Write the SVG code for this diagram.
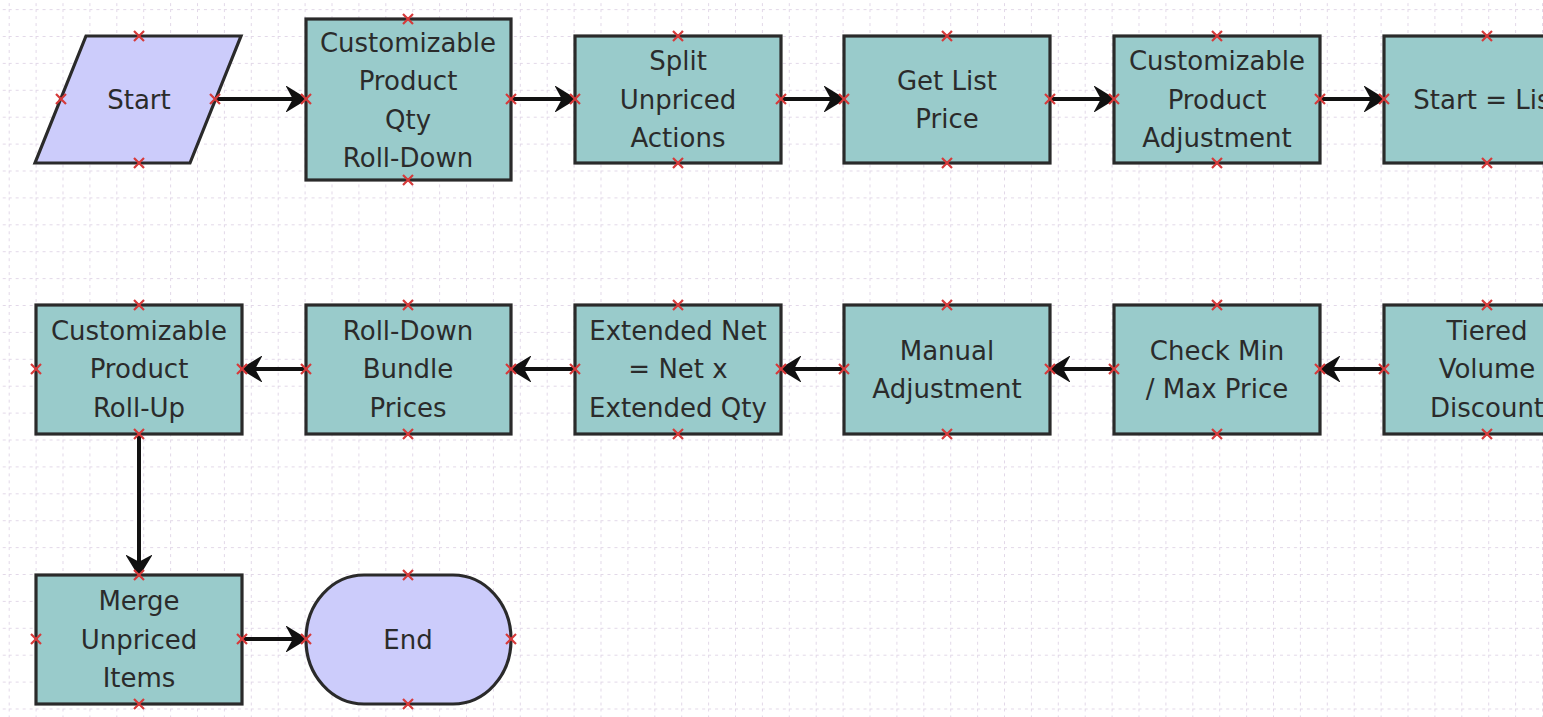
<svg xmlns="http://www.w3.org/2000/svg" xmlns:xlink="http://www.w3.org/1999/xlink" width="1543" height="717" viewBox="0 0 1543 717">
<style>
.box{fill:#99cbcb;stroke:#2a2a2a;stroke-width:3.2}
.term{fill:#ccccfb;stroke:#2a2a2a;stroke-width:3.2}
.t{font-family:"DejaVu Sans","Noto Sans",sans-serif;font-size:26px;fill:#2b2b2b;text-anchor:middle;dominant-baseline:central}
.c{stroke:#111;stroke-width:4;fill:none;marker-end:url(#ah)}
.x{stroke:#d63a3a;stroke-width:2.2}
</style>
<defs>
<pattern id="grid" x="35.6" y="9.1" width="26.9" height="26.9" patternUnits="userSpaceOnUse">
<path d="M0,0 V26.9 M0,0 H26.9" stroke="#e2d8e8" stroke-width="2" stroke-dasharray="3,4" fill="none"/>
</pattern>
<marker id="ah" markerUnits="userSpaceOnUse" viewBox="-19 -13 21 26" refX="0" refY="0" markerWidth="21" markerHeight="26" orient="auto">
<path d="M1,0 L-17,-11 L-11,0 L-17,11 Z" fill="#111" stroke="#111" stroke-width="2" stroke-linejoin="miter"/>
</marker>
<g id="xm"><path class="x" d="M-5,-5 L5,5 M-5,5 L5,-5"/></g>
</defs>
<rect width="1543" height="717" fill="#fff"/>
<rect width="1543" height="717" fill="url(#grid)"/>

<g id="connectors">
<path class="c" d="M213,99 H305"/>
<path class="c" d="M511,99 H574"/>
<path class="c" d="M781,99 H843"/>
<path class="c" d="M1050,99 H1113"/>
<path class="c" d="M1320,99 H1383"/>
<path class="c" d="M1384,369 H1321"/>
<path class="c" d="M1114,369 H1051"/>
<path class="c" d="M844,369 H782"/>
<path class="c" d="M575,369 H512"/>
<path class="c" d="M306,369 H243"/>
<path class="c" d="M139,434 V574"/>
<path class="c" d="M242,639 H305"/>
</g>

<g id="n-start">
<polygon class="term" points="86,36 241,36 190,163 35,163"/>
<text class="t" x="139" y="100">Start</text>
<use href="#xm" x="139" y="36"/><use href="#xm" x="139" y="163"/><use href="#xm" x="61" y="99"/><use href="#xm" x="215" y="99"/>
</g>

<g id="n-qty">
<rect class="box" x="306" y="19" width="205" height="161"/>
<text class="t" x="408" y="43">Customizable</text>
<text class="t" x="408" y="81">Product</text>
<text class="t" x="408" y="120">Qty</text>
<text class="t" x="408" y="158">Roll-Down</text>
<use href="#xm" x="408" y="19"/><use href="#xm" x="408" y="180"/><use href="#xm" x="306" y="99"/><use href="#xm" x="511" y="99"/>
</g>

<g id="n-split">
<rect class="box" x="575" y="36" width="206" height="127"/>
<text class="t" x="678" y="61">Split</text>
<text class="t" x="678" y="100">Unpriced</text>
<text class="t" x="678" y="138">Actions</text>
<use href="#xm" x="678" y="36"/><use href="#xm" x="678" y="163"/><use href="#xm" x="575" y="99"/><use href="#xm" x="781" y="99"/>
</g>

<g id="n-list">
<rect class="box" x="844" y="36" width="206" height="127"/>
<text class="t" x="947" y="81">Get List</text>
<text class="t" x="947" y="119">Price</text>
<use href="#xm" x="947" y="36"/><use href="#xm" x="947" y="163"/><use href="#xm" x="844" y="99"/><use href="#xm" x="1050" y="99"/>
</g>

<g id="n-adj">
<rect class="box" x="1114" y="36" width="206" height="127"/>
<text class="t" x="1217" y="61">Customizable</text>
<text class="t" x="1217" y="100">Product</text>
<text class="t" x="1217" y="138">Adjustment</text>
<use href="#xm" x="1217" y="36"/><use href="#xm" x="1217" y="163"/><use href="#xm" x="1114" y="99"/><use href="#xm" x="1320" y="99"/>
</g>

<g id="n-startlist">
<rect class="box" x="1384" y="36" width="206" height="127"/>
<text class="t" x="1487" y="100">Start = List</text>
<use href="#xm" x="1487" y="36"/><use href="#xm" x="1487" y="163"/><use href="#xm" x="1384" y="99"/>
</g>

<g id="n-tiered">
<rect class="box" x="1384" y="305" width="206" height="129"/>
<text class="t" x="1487" y="331">Tiered</text>
<text class="t" x="1487" y="369">Volume</text>
<text class="t" x="1487" y="408">Discount</text>
<use href="#xm" x="1487" y="305"/><use href="#xm" x="1487" y="434"/><use href="#xm" x="1384" y="369"/>
</g>

<g id="n-check">
<rect class="box" x="1114" y="305" width="206" height="129"/>
<text class="t" x="1217" y="351">Check Min</text>
<text class="t" x="1217" y="389">/ Max Price</text>
<use href="#xm" x="1217" y="305"/><use href="#xm" x="1217" y="434"/><use href="#xm" x="1114" y="369"/><use href="#xm" x="1320" y="369"/>
</g>

<g id="n-manual">
<rect class="box" x="844" y="305" width="206" height="129"/>
<text class="t" x="947" y="351">Manual</text>
<text class="t" x="947" y="389">Adjustment</text>
<use href="#xm" x="947" y="305"/><use href="#xm" x="947" y="434"/><use href="#xm" x="844" y="369"/><use href="#xm" x="1050" y="369"/>
</g>

<g id="n-extnet">
<rect class="box" x="575" y="305" width="206" height="129"/>
<text class="t" x="678" y="331">Extended Net</text>
<text class="t" x="678" y="369">= Net x</text>
<text class="t" x="678" y="408">Extended Qty</text>
<use href="#xm" x="678" y="305"/><use href="#xm" x="678" y="434"/><use href="#xm" x="575" y="369"/><use href="#xm" x="781" y="369"/>
</g>

<g id="n-bundle">
<rect class="box" x="306" y="305" width="205" height="129"/>
<text class="t" x="408" y="331">Roll-Down</text>
<text class="t" x="408" y="369">Bundle</text>
<text class="t" x="408" y="408">Prices</text>
<use href="#xm" x="408" y="305"/><use href="#xm" x="408" y="434"/><use href="#xm" x="306" y="369"/><use href="#xm" x="511" y="369"/>
</g>

<g id="n-rollup">
<rect class="box" x="36" y="305" width="206" height="129"/>
<text class="t" x="139" y="331">Customizable</text>
<text class="t" x="139" y="369">Product</text>
<text class="t" x="139" y="408">Roll-Up</text>
<use href="#xm" x="139" y="305"/><use href="#xm" x="139" y="434"/><use href="#xm" x="36" y="369"/><use href="#xm" x="242" y="369"/>
</g>

<g id="n-merge">
<rect class="box" x="36" y="575" width="206" height="129"/>
<text class="t" x="139" y="601">Merge</text>
<text class="t" x="139" y="640">Unpriced</text>
<text class="t" x="139" y="678">Items</text>
<use href="#xm" x="139" y="575"/><use href="#xm" x="139" y="704"/><use href="#xm" x="36" y="639"/><use href="#xm" x="242" y="639"/>
</g>

<g id="n-end">
<rect class="term" x="306" y="575" width="205" height="129" rx="58" ry="64"/>
<text class="t" x="408" y="640">End</text>
<use href="#xm" x="408" y="575"/><use href="#xm" x="408" y="704"/><use href="#xm" x="306" y="639"/><use href="#xm" x="511" y="639"/>
</g>
</svg>
